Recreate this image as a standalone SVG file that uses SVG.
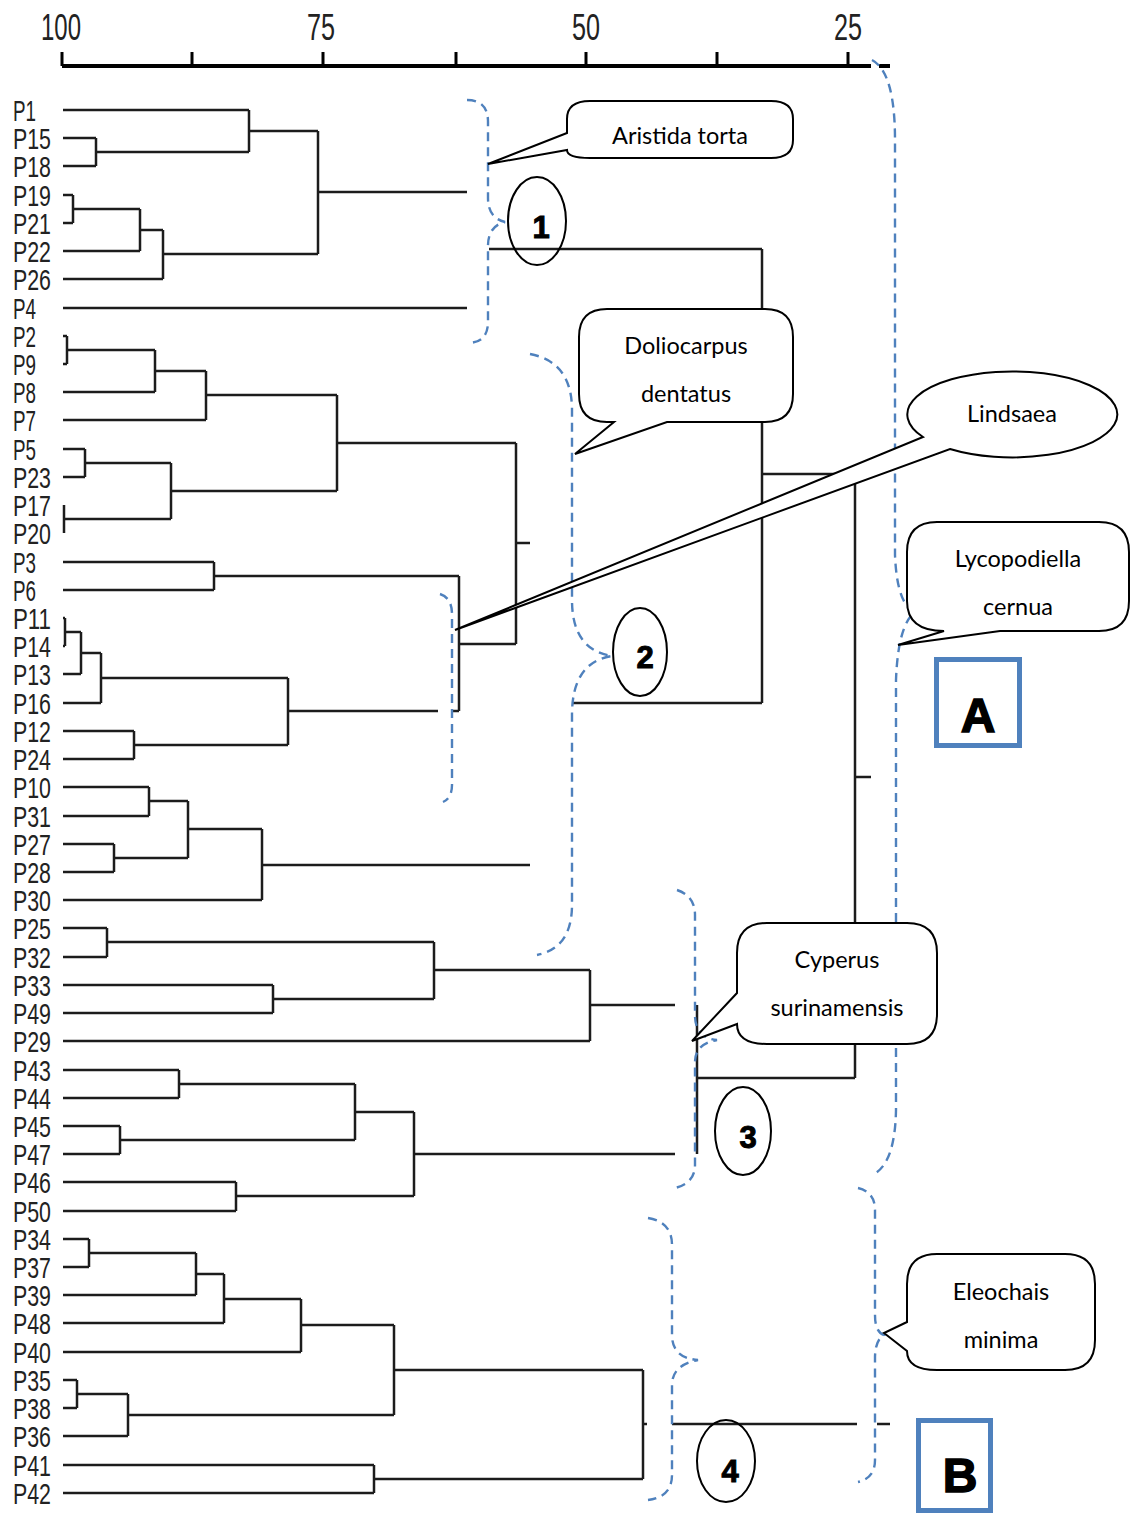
<svg xmlns="http://www.w3.org/2000/svg" width="1130" height="1515" viewBox="0 0 1130 1515">
<style>
.ax{font-family:"Liberation Sans",Arial,sans-serif;font-size:37px;fill:#222;text-anchor:middle}
.lb{font-family:"Liberation Sans",Arial,sans-serif;font-size:30px;fill:#222}
.ln{fill:none;stroke:#1c1c1c;stroke-width:2.5}
.br{fill:none;stroke:#4f81bd;stroke-width:2.4;stroke-dasharray:9 6}
.co{fill:#fff;stroke:#000;stroke-width:2}
.ct{font-family:Lato,"Open Sans",sans-serif;font-size:23.5px;fill:#000;text-anchor:middle}
.el{fill:none;stroke:#000;stroke-width:2}
.nm{font-family:"Liberation Sans",Arial,sans-serif;font-size:31px;font-weight:bold;fill:#000;stroke:#000;stroke-width:1;text-anchor:middle}
.bx{fill:none;stroke:#4f81bd;stroke-width:5}
.bl{font-family:"Liberation Sans",Arial,sans-serif;font-size:48px;font-weight:bold;fill:#000;stroke:#000;stroke-width:1.5;text-anchor:middle}
</style>
<rect width="1130" height="1515" fill="#fff"/>
<g id="axis">
<path d="M62,66H871M879,66H890" stroke="#000" stroke-width="4" fill="none"/>
<path d="M62,52V66M192,52V66M323,52V66M456,52V66M586,52V66M717,52V66M848,52V66" stroke="#000" stroke-width="3" fill="none"/>
<text class="ax" x="61" y="40" textLength="40" lengthAdjust="spacingAndGlyphs">100</text>
<text class="ax" x="321" y="40" textLength="28" lengthAdjust="spacingAndGlyphs">75</text>
<text class="ax" x="586" y="40" textLength="28" lengthAdjust="spacingAndGlyphs">50</text>
<text class="ax" x="848" y="40" textLength="28" lengthAdjust="spacingAndGlyphs">25</text>
</g>
<g id="labels">
<text class="lb" x="13" y="121" textLength="23" lengthAdjust="spacingAndGlyphs">P1</text>
<text class="lb" x="13" y="149" textLength="38" lengthAdjust="spacingAndGlyphs">P15</text>
<text class="lb" x="13" y="177" textLength="38" lengthAdjust="spacingAndGlyphs">P18</text>
<text class="lb" x="13" y="206" textLength="38" lengthAdjust="spacingAndGlyphs">P19</text>
<text class="lb" x="13" y="234" textLength="38" lengthAdjust="spacingAndGlyphs">P21</text>
<text class="lb" x="13" y="262" textLength="38" lengthAdjust="spacingAndGlyphs">P22</text>
<text class="lb" x="13" y="290" textLength="38" lengthAdjust="spacingAndGlyphs">P26</text>
<text class="lb" x="13" y="319" textLength="23" lengthAdjust="spacingAndGlyphs">P4</text>
<text class="lb" x="13" y="347" textLength="23" lengthAdjust="spacingAndGlyphs">P2</text>
<text class="lb" x="13" y="375" textLength="23" lengthAdjust="spacingAndGlyphs">P9</text>
<text class="lb" x="13" y="403" textLength="23" lengthAdjust="spacingAndGlyphs">P8</text>
<text class="lb" x="13" y="431" textLength="23" lengthAdjust="spacingAndGlyphs">P7</text>
<text class="lb" x="13" y="460" textLength="23" lengthAdjust="spacingAndGlyphs">P5</text>
<text class="lb" x="13" y="488" textLength="38" lengthAdjust="spacingAndGlyphs">P23</text>
<text class="lb" x="13" y="516" textLength="38" lengthAdjust="spacingAndGlyphs">P17</text>
<text class="lb" x="13" y="544" textLength="38" lengthAdjust="spacingAndGlyphs">P20</text>
<text class="lb" x="13" y="573" textLength="23" lengthAdjust="spacingAndGlyphs">P3</text>
<text class="lb" x="13" y="601" textLength="23" lengthAdjust="spacingAndGlyphs">P6</text>
<text class="lb" x="13" y="629" textLength="38" lengthAdjust="spacingAndGlyphs">P11</text>
<text class="lb" x="13" y="657" textLength="38" lengthAdjust="spacingAndGlyphs">P14</text>
<text class="lb" x="13" y="685" textLength="38" lengthAdjust="spacingAndGlyphs">P13</text>
<text class="lb" x="13" y="714" textLength="38" lengthAdjust="spacingAndGlyphs">P16</text>
<text class="lb" x="13" y="742" textLength="38" lengthAdjust="spacingAndGlyphs">P12</text>
<text class="lb" x="13" y="770" textLength="38" lengthAdjust="spacingAndGlyphs">P24</text>
<text class="lb" x="13" y="798" textLength="38" lengthAdjust="spacingAndGlyphs">P10</text>
<text class="lb" x="13" y="827" textLength="38" lengthAdjust="spacingAndGlyphs">P31</text>
<text class="lb" x="13" y="855" textLength="38" lengthAdjust="spacingAndGlyphs">P27</text>
<text class="lb" x="13" y="883" textLength="38" lengthAdjust="spacingAndGlyphs">P28</text>
<text class="lb" x="13" y="911" textLength="38" lengthAdjust="spacingAndGlyphs">P30</text>
<text class="lb" x="13" y="939" textLength="38" lengthAdjust="spacingAndGlyphs">P25</text>
<text class="lb" x="13" y="968" textLength="38" lengthAdjust="spacingAndGlyphs">P32</text>
<text class="lb" x="13" y="996" textLength="38" lengthAdjust="spacingAndGlyphs">P33</text>
<text class="lb" x="13" y="1024" textLength="38" lengthAdjust="spacingAndGlyphs">P49</text>
<text class="lb" x="13" y="1052" textLength="38" lengthAdjust="spacingAndGlyphs">P29</text>
<text class="lb" x="13" y="1081" textLength="38" lengthAdjust="spacingAndGlyphs">P43</text>
<text class="lb" x="13" y="1109" textLength="38" lengthAdjust="spacingAndGlyphs">P44</text>
<text class="lb" x="13" y="1137" textLength="38" lengthAdjust="spacingAndGlyphs">P45</text>
<text class="lb" x="13" y="1165" textLength="38" lengthAdjust="spacingAndGlyphs">P47</text>
<text class="lb" x="13" y="1193" textLength="38" lengthAdjust="spacingAndGlyphs">P46</text>
<text class="lb" x="13" y="1222" textLength="38" lengthAdjust="spacingAndGlyphs">P50</text>
<text class="lb" x="13" y="1250" textLength="38" lengthAdjust="spacingAndGlyphs">P34</text>
<text class="lb" x="13" y="1278" textLength="38" lengthAdjust="spacingAndGlyphs">P37</text>
<text class="lb" x="13" y="1306" textLength="38" lengthAdjust="spacingAndGlyphs">P39</text>
<text class="lb" x="13" y="1334" textLength="38" lengthAdjust="spacingAndGlyphs">P48</text>
<text class="lb" x="13" y="1363" textLength="38" lengthAdjust="spacingAndGlyphs">P40</text>
<text class="lb" x="13" y="1391" textLength="38" lengthAdjust="spacingAndGlyphs">P35</text>
<text class="lb" x="13" y="1419" textLength="38" lengthAdjust="spacingAndGlyphs">P38</text>
<text class="lb" x="13" y="1447" textLength="38" lengthAdjust="spacingAndGlyphs">P36</text>
<text class="lb" x="13" y="1476" textLength="38" lengthAdjust="spacingAndGlyphs">P41</text>
<text class="lb" x="13" y="1504" textLength="38" lengthAdjust="spacingAndGlyphs">P42</text>
</g>
<g id="connectors">
<path class="ln" d="M63,110H249 M63,138H96 M63,166H96 M96,138V166 M96,152H249 M249,110V152 M249,131H318 M63,195H73 M63,223H73 M73,195V223 M73,209H140 M63,251H140 M140,209V251 M140,230H163 M63,279H163 M163,230V279 M163,254H318 M318,131V254 M318,192H467 M63,308H467"/>
<path class="ln" d="M63,336H67 M63,364H67 M67,336V364 M67,350H155 M63,392H155 M155,350V392 M155,371H206 M63,420H206 M206,371V420 M206,395H337 M63,449H85 M63,477H85 M85,449V477 M85,463H171 M64,505V533 M64,519H171 M171,463V519 M171,491H337 M337,395V491 M337,443H516 M63,562H214 M63,590H214 M214,562V590 M214,576H459 M63,618H65 M63,646H65 M65,618V646 M65,632H81 M63,674H81 M81,632V674 M81,653H101 M63,703H101 M101,653V703 M101,678H288 M63,731H134 M63,759H134 M134,731V759 M134,745H288 M288,678V745 M288,711H438 M452,711H459 M459,576V711 M459,644H516 M516,443V644 M516,543H530 M63,787H149 M63,816H149 M149,787V816 M149,801H188 M63,844H114 M63,872H114 M114,844V872 M114,858H188 M188,801V858 M188,829H262 M63,900H262 M262,829V900 M262,865H530"/>
<path class="ln" d="M63,928H107 M63,957H107 M107,928V957 M107,942H434 M63,985H273 M63,1013H273 M273,985V1013 M273,999H434 M434,942V999 M434,970H590 M63,1041H590 M590,970V1041 M590,1005H675 M63,1070H179 M63,1098H179 M179,1070V1098 M179,1084H355 M63,1126H120 M63,1154H120 M120,1126V1154 M120,1140H355 M355,1084V1140 M355,1112H414 M63,1182H236 M63,1211H236 M236,1182V1211 M236,1196H414 M414,1112V1196 M414,1154H675 M697,1005V1154 M697,1078H855"/>
<path class="ln" d="M489,249H762 M762,249V703 M572,703H762 M762,474H855 M855,474V1078 M855,777H871"/>
<path class="ln" d="M63,1239H89 M63,1267H89 M89,1239V1267 M89,1253H196 M63,1295H196 M196,1253V1295 M196,1274H224 M63,1323H224 M224,1274V1323 M224,1299H301 M63,1352H301 M301,1299V1352 M301,1325H394 M63,1380H77 M63,1408H77 M77,1380V1408 M77,1394H128 M63,1436H128 M128,1394V1436 M128,1415H394 M394,1325V1415 M394,1370H643 M63,1465H374 M63,1493H374 M374,1465V1493 M374,1479H643 M643,1370V1479 M643,1424H647 M672,1424H857 M877,1424H890"/>
</g>
<g id="braces">
<path class="br" d="M467,100 Q488,100 488,122 V198 Q488,218 505,222 Q488,226 488,246 V322 Q488,343 467,343"/>
<path class="br" d="M530,354 Q572,362 572,410 V600 Q572,650 612,656 Q572,662 572,715 V905 Q572,948 537,955"/>
<path class="br" d="M440,594 Q452,598 452,614 V785 Q452,798 443,802"/>
<path class="br" d="M677,890 Q695,896 695,915 V1015 Q695,1038 717,1040 Q695,1044 695,1062 V1165 Q695,1183 675,1188"/>
<path class="br" d="M872,60 Q895,72 895,140 V555 Q897,605 915,612 Q898,625 896,680 V1110 Q895,1165 872,1175"/>
<path class="br" d="M648,1218 Q672,1222 672,1245 V1335 Q672,1358 698,1360 Q672,1365 672,1385 V1475 Q672,1497 648,1500"/>
<path class="br" d="M858,1188 Q875,1192 875,1210 V1315 Q875,1332 884,1335 Q875,1340 875,1358 V1460 Q875,1478 858,1482"/>
</g>
<g id="cluster1"><ellipse class="el" cx="537" cy="221" rx="29" ry="44"/><text class="nm" x="541" y="238">1</text></g>
<g id="cluster2"><ellipse class="el" cx="640" cy="652" rx="27" ry="44"/><text class="nm" x="645" y="668">2</text></g>
<g id="cluster3"><ellipse class="el" cx="743" cy="1131" rx="28" ry="44"/><text class="nm" x="748" y="1148">3</text></g>
<g id="cluster4"><ellipse class="el" cx="726" cy="1461" rx="29" ry="41"/><text class="nm" x="730" y="1482">4</text></g>
<g id="callout-aristida">
<path class="co" d="M590,101 H771 Q793,101 793,119 V140 Q793,158 771,158 H590 Q567,158 567,150 L488,164 L567,133 V119 Q567,101 590,101 Z"/>
<text class="ct" x="680" y="144">Aristida torta</text>
</g>
<g id="callout-doliocarpus">
<path class="co" d="M607,309 H765 Q793,309 793,337 V394 Q793,422 765,422 H667 L575,454 L614,422 H607 Q579,422 579,394 V337 Q579,309 607,309 Z"/>
<text class="ct" x="686" y="354">Doliocarpus</text>
<text class="ct" x="686" y="402">dentatus</text>
</g>
<g id="callout-lindsaea">
<path class="co" d="M923,437 A105,43 0 1 1 950,449 L455,630 Z"/>
<text class="ct" x="1012" y="422">Lindsaea</text>
</g>
<g id="callout-lycopodiella">
<path class="co" d="M937,522 H1099 Q1129,522 1129,552 V601 Q1129,631 1099,631 H1000 L898,645 L944,631 Q907,631 907,601 V552 Q907,522 937,522 Z"/>
<text class="ct" x="1018" y="567">Lycopodiella</text>
<text class="ct" x="1018" y="615">cernua</text>
</g>
<g id="callout-cyperus">
<path class="co" d="M767,923 H907 Q937,923 937,953 V1014 Q937,1044 907,1044 H767 Q737,1044 737,1024 L692,1041 L737,993 V953 Q737,923 767,923 Z"/>
<text class="ct" x="837" y="968">Cyperus</text>
<text class="ct" x="837" y="1016">surinamensis</text>
</g>
<g id="callout-eleochais">
<path class="co" d="M937,1254 H1065 Q1095,1254 1095,1284 V1340 Q1095,1370 1065,1370 H937 Q907,1370 907,1351 L884,1333 L907,1322 V1284 Q907,1254 937,1254 Z"/>
<text class="ct" x="1001" y="1300">Eleochais</text>
<text class="ct" x="1001" y="1348">minima</text>
</g>
<g id="group-A"><rect class="bx" x="936.5" y="659.5" width="83" height="86"/><text class="bl" x="978" y="732">A</text></g>
<g id="group-B"><rect class="bx" x="918.5" y="1420.5" width="72" height="90"/><text class="bl" x="960" y="1492">B</text></g>
</svg>
